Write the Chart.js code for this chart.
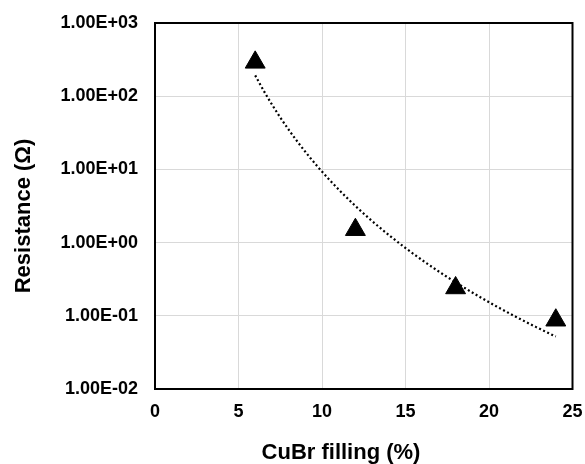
<!DOCTYPE html>
<html>
<head>
<meta charset="utf-8">
<script src="https://cdn.jsdelivr.net/npm/chart.js@4"></script>
<style>
  html, body { margin: 0; padding: 0; background: #fff; }
  #wrap { width: 585px; height: 464px; }
</style>
</head>
<body>
<div id="wrap"><canvas id="chart"></canvas></div>
<script>
// --- données ---
const fillingPct = [6, 12, 18, 24];
const resistance = [290, 1.5, 0.24, 0.087];
const xTicks = [0, 5, 10, 15, 20, 25];
const yTicks = [1e-2, 1e-1, 1e0, 1e1, 1e2, 1e3];
const xTitle = 'CuBr filling (%)';
const yTitle = 'Resistance (Ω)';

// courbe de tendance puissance (y = a * x^b), comme dans Excel
function powerFit(xs, ys) {
    const lx = xs.map(Math.log), ly = ys.map(Math.log);
    const n = xs.length;
    const mx = lx.reduce((a, b) => a + b, 0) / n;
    const my = ly.reduce((a, b) => a + b, 0) / n;
    let sxy = 0, sxx = 0;
    for (let i = 0; i < n; i++) {
        sxy += (lx[i] - mx) * (ly[i] - my);
        sxx += (lx[i] - mx) * (lx[i] - mx);
    }
    const b = sxy / sxx;
    const a = Math.exp(my - b * mx);
    return x => a * Math.pow(x, b);
}
const fit = powerFit(fillingPct, resistance);
const trend = [];
const x0 = fillingPct[0], x1 = fillingPct[fillingPct.length - 1];
for (let i = 0; i <= 60; i++) {
    const x = x0 + (x1 - x0) * i / 60;
    trend.push({ x: x, y: fit(x) });
}

function sciLabel(v) {
    const exp = Math.round(Math.log10(v));
    const mant = (v / Math.pow(10, exp)).toFixed(2);
    const sign = exp < 0 ? '-' : '+';
    return mant + 'E' + sign + String(Math.abs(exp)).padStart(2, '0');
}

const FONT = '"Liberation Sans", Arial, sans-serif';

// cadre noir + titres des axes
const framePlugin = {
    id: 'frame',
    afterDraw(chart) {
        const { ctx, chartArea: a } = chart;
        ctx.save();
        ctx.strokeStyle = '#000';
        ctx.lineWidth = 2;
        ctx.strokeRect(a.left, a.top, a.right - a.left, a.bottom - a.top);
        ctx.fillStyle = '#000';
        ctx.font = 'bold 22px ' + FONT;
        ctx.textAlign = 'center';
        ctx.textBaseline = 'middle';
        ctx.fillText(xTitle, 341, 453);
        ctx.translate(24, 216);
        ctx.rotate(-Math.PI / 2);
        ctx.fillText(yTitle, 0, 0);
        ctx.restore();
    }
};

new Chart(document.getElementById('chart'), {
    type: 'scatter',
    data: {
        datasets: [
            {
                label: 'Trend',
                data: trend,
                showLine: true,
                borderColor: '#000',
                borderWidth: 2.2,
                borderDash: [2, 2.5],
                pointRadius: 0,
                tension: 0
            },
            {
                label: 'Resistance',
                data: fillingPct.map((x, i) => ({ x: x, y: resistance[i] })),
                pointStyle: 'triangle',
                pointRadius: 11.5,
                backgroundColor: '#000',
                borderColor: '#000',
                borderWidth: 1
            }
        ]
    },
    options: {
        responsive: true,
        maintainAspectRatio: false,
        animation: false,
        layout: { padding: { left: 0, right: 11, top: 23, bottom: 0 } },
        plugins: {
            legend: { display: false },
            tooltip: { enabled: false }
        },
        scales: {
            x: {
                type: 'linear',
                min: 0,
                max: 25,
                afterBuildTicks: s => { s.ticks = xTicks.map(v => ({ value: v })); },
                afterFit: s => { s.height = 75; s.paddingLeft = 0; s.paddingRight = 0; },
                ticks: {
                    color: '#000',
                    font: { family: FONT, size: 18, weight: 'bold' },
                    padding: 12,
                    maxRotation: 0
                },
                grid: { color: '#d9d9d9', lineWidth: 1, drawTicks: false },
                border: { display: false }
            },
            y: {
                type: 'logarithmic',
                min: 1e-2,
                max: 1e3,
                afterBuildTicks: s => { s.ticks = yTicks.map(v => ({ value: v })); },
                afterFit: s => { s.width = 155; s.paddingTop = 0; s.paddingBottom = 0; },
                ticks: {
                    color: '#000',
                    font: { family: FONT, size: 18, weight: 'bold' },
                    padding: 17,
                    callback: v => sciLabel(v)
                },
                grid: { color: '#d9d9d9', lineWidth: 1, drawTicks: false },
                border: { display: false }
            }
        }
    },
    plugins: [framePlugin]
});
</script>
</body>
</html>
